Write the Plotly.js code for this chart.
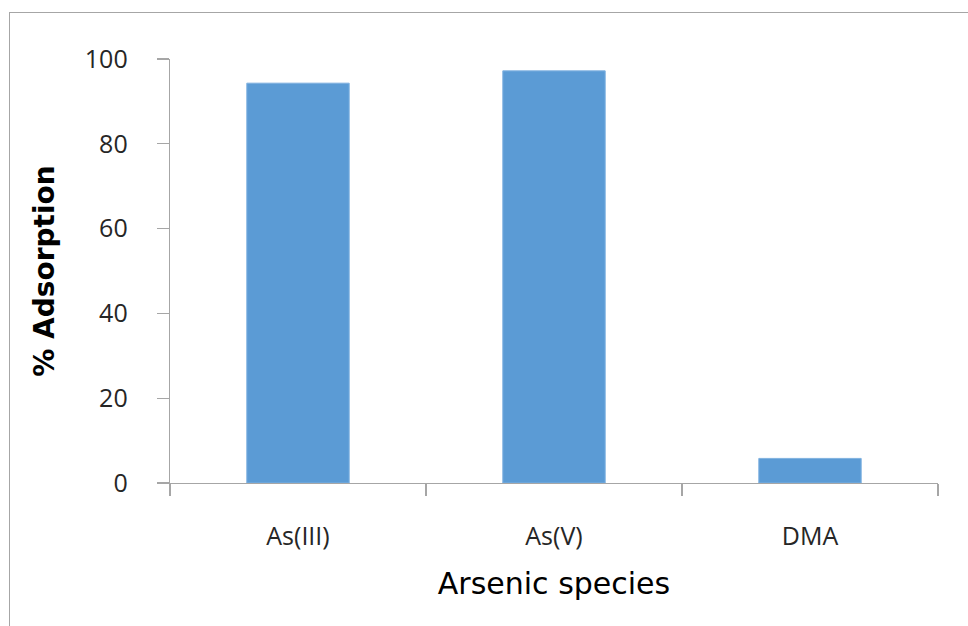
<!DOCTYPE html>
<html>
<head>
<meta charset="utf-8">
<script src="https://cdn.plot.ly/plotly-3.0.1.min.js"></script>
<style>
  html, body { margin: 0; padding: 0; background: #fff; overflow: hidden; }
  #frame {
    position: absolute; left: 9px; top: 12px; width: 1000px; height: 700px;
    border-left: 1px solid #a6a6a6; border-top: 1px solid #a6a6a6;
    pointer-events: none; z-index: 2;
  }
  #chart { position: absolute; left: 0; top: 0; width: 968px; height: 626px; }
</style>
</head>
<body>
<div id="chart"></div>
<div id="frame"></div>
<script>
// Adsorption of each arsenic species
const species = ["As(III)", "As(V)", "DMA"];
const adsorption = [94.3, 97.2, 5.8];
const yTicks = [0, 20, 40, 60, 80, 100];

const axisGray = "#a6a6a6";
const tickFont = "Open Sans, Noto Sans, sans-serif";
const titleFont = "DejaVu Sans, Verdana, sans-serif";

const trace = {
  type: "bar",
  x: species,
  y: adsorption,
  marker: { color: "#5b9bd5", line: { color: "#7fb1e0", width: 1 } },
  hoverinfo: "x+y"
};

const layout = {
  width: 968,
  height: 626,
  margin: { l: 170, r: 30, t: 59, b: 143 },
  paper_bgcolor: "#ffffff",
  plot_bgcolor: "#ffffff",
  showlegend: false,
  bargap: 0.6,
  font: { family: tickFont, color: "#262626" },
  xaxis: {
    type: "category",
    automargin: false,
    showline: true,
    linecolor: axisGray,
    linewidth: 1.3,
    showgrid: false,
    zeroline: false,
    ticks: "outside",
    tickson: "boundaries",
    ticklen: 12,
    tickwidth: 1.3,
    tickcolor: axisGray,
    ticklabelstandoff: 31,
    tickfont: { size: 25, family: tickFont, color: "#262626" },
    title: { text: "Arsenic species", standoff: 21, font: { size: 30, family: titleFont, color: "#000" } }
  },
  yaxis: {
    range: [0, 100],
    automargin: false,
    tickvals: yTicks,
    ticktext: yTicks.map(String),
    showline: true,
    linecolor: axisGray,
    linewidth: 1.3,
    showgrid: false,
    zeroline: false,
    ticks: "outside",
    ticklen: 12,
    tickwidth: 1.3,
    tickcolor: axisGray,
    ticklabelstandoff: 24,
    tickfont: { size: 25, family: tickFont, color: "#262626" },
    title: { text: "% Adsorption", standoff: 22, font: { size: 28, weight: "bold", family: titleFont, color: "#000" } }
  }
};

Plotly.newPlot("chart", [trace], layout, { displayModeBar: false, staticPlot: true });
</script>
</body>
</html>
